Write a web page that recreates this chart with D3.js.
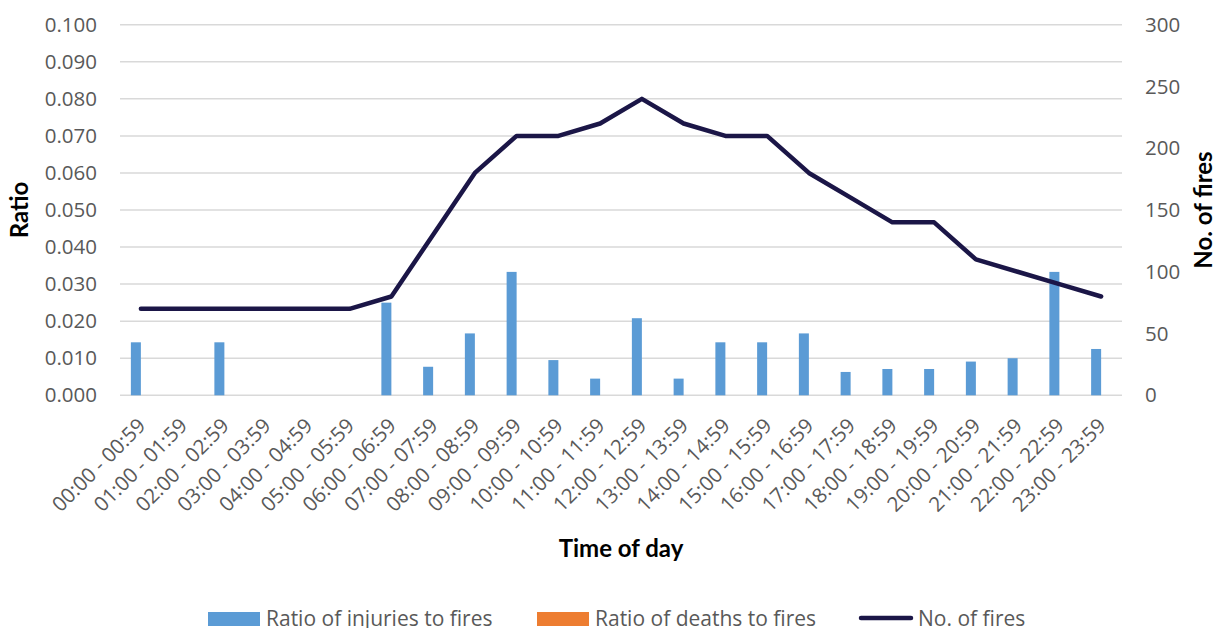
<!DOCTYPE html>
<html>
<head>
<meta charset="utf-8">
<script src="https://cdn.jsdelivr.net/npm/d3@7"></script>
<style>
  body { margin: 0; background: #fff; }
  text { font-family: "Open Sans", sans-serif; fill: #595959; }
  .title { font-family: Lato, "Open Sans", sans-serif; font-weight: 700; fill: #000; }
</style>
</head>
<body>
<div id="chart"></div>
<script>
var width = 1215, height = 628;

var hours = ["00:00 - 00:59","01:00 - 01:59","02:00 - 02:59","03:00 - 03:59","04:00 - 04:59","05:00 - 05:59",
	"06:00 - 06:59","07:00 - 07:59","08:00 - 08:59","09:00 - 09:59","10:00 - 10:59","11:00 - 11:59",
	"12:00 - 12:59","13:00 - 13:59","14:00 - 14:59","15:00 - 15:59","16:00 - 16:59","17:00 - 17:59",
	"18:00 - 18:59","19:00 - 19:59","20:00 - 20:59","21:00 - 21:59","22:00 - 22:59","23:00 - 23:59"];
var injuryRatio = [0.0143,0,0.0143,0,0,0,0.025,0.0077,0.0167,0.0333,0.0095,0.0045,
	0.0208,0.0045,0.0143,0.0143,0.0167,0.0063,0.0071,0.0071,0.0091,0.01,0.0333,0.0125];
var deathRatio = [0,0,0,0,0,0,0,0,0,0,0,0,0,0,0,0,0,0,0,0,0,0,0,0];
var fires = [70,70,70,70,70,70,80,130,180,210,210,220,240,220,210,210,180,160,140,140,110,100,90,80];
var ratioTicks = [0,0.01,0.02,0.03,0.04,0.05,0.06,0.07,0.08,0.09,0.1];
var fireTicks = [0,50,100,150,200,250,300];
var seriesNames = ["Ratio of injuries to fires","Ratio of deaths to fires","No. of fires"];

var plotL = 120, plotR = 1122, plotT = 24.7, plotB = 395.3;

var svg = d3.select("#chart").append("svg")
	.attr("width", width)
	.attr("height", height);

var x = d3.scaleBand().domain(hours).range([plotL, plotR]);
var sub = d3.scaleBand().domain([0,1]).range([-10, 10]);
var yL = d3.scaleLinear().domain([0, 0.1]).range([plotB, plotT]);
var yR = d3.scaleLinear().domain([0, 300]).range([plotB, plotT]);

// gridlines
svg.append("g").selectAll("line").data(ratioTicks).enter().append("line")
	.attr("x1", plotL).attr("x2", plotR)
	.attr("y1", function(d) { return yL(d); }).attr("y2", function(d) { return yL(d); })
	.attr("stroke", "#d9d9d9").attr("stroke-width", 1.5);

// left axis labels
svg.append("g").selectAll("text").data(ratioTicks).enter().append("text")
	.attr("x", 97).attr("y", function(d) { return yL(d); })
	.attr("dy", "0.35em").attr("text-anchor", "end")
	.style("font-size", "20.5px")
	.text(function(d) { return d3.format(".3f")(d); });

// right axis labels
svg.append("g").selectAll("text").data(fireTicks).enter().append("text")
	.attr("x", 1145).attr("y", function(d) { return yR(d); })
	.attr("dy", "0.35em")
	.style("font-size", "20.5px")
	.text(function(d) { return d; });

// bars
var bars = svg.append("g");
bars.selectAll(".inj").data(injuryRatio).enter().append("rect")
	.attr("class", "inj")
	.attr("x", function(d, i) { return x(hours[i]) + x.bandwidth() / 2 + sub(0); })
	.attr("width", sub.bandwidth())
	.attr("y", function(d) { return yL(d); })
	.attr("height", function(d) { return plotB - yL(d); })
	.attr("fill", "#5b9bd5");
bars.selectAll(".dth").data(deathRatio).enter().append("rect")
	.attr("class", "dth")
	.attr("x", function(d, i) { return x(hours[i]) + x.bandwidth() / 2 + sub(1); })
	.attr("width", sub.bandwidth())
	.attr("y", function(d) { return yL(d); })
	.attr("height", function(d) { return plotB - yL(d); })
	.attr("fill", "#ed7d31");

// line
var line = d3.line()
	.x(function(d, i) { return x(hours[i]) + x.bandwidth() / 2; })
	.y(function(d) { return yR(d); });
svg.append("path").datum(fires)
	.attr("d", line)
	.attr("fill", "none")
	.attr("stroke", "#1b1647")
	.attr("stroke-width", 4.5)
	.attr("stroke-linejoin", "round")
	.attr("stroke-linecap", "round");

// x labels
svg.append("g").selectAll("text").data(hours).enter().append("text")
	.attr("transform", function(d) { return "translate(" + (x(d) + x.bandwidth() / 2 + 6) + ",427) rotate(-45)"; })
	.attr("text-anchor", "end")
	.style("font-size", "20.5px")
	.text(function(d) { return d; });

// axis titles
svg.append("text").attr("class", "title")
	.attr("transform", "translate(28,210) rotate(-90)")
	.attr("text-anchor", "middle")
	.style("font-size", "24px")
	.text("Ratio");
svg.append("text").attr("class", "title")
	.attr("transform", "translate(1212,210) rotate(-90)")
	.attr("text-anchor", "middle")
	.style("font-size", "24px")
	.text("No. of fires");
svg.append("text").attr("class", "title")
	.attr("x", 621).attr("y", 557)
	.attr("text-anchor", "middle")
	.style("font-size", "24px")
	.text("Time of day");

// legend
var leg = svg.append("g");
leg.append("rect").attr("x", 208).attr("y", 612).attr("width", 52).attr("height", 14).attr("fill", "#5b9bd5");
leg.append("text").attr("x", 266).attr("y", 626).style("font-size", "21px").text(seriesNames[0]);
leg.append("rect").attr("x", 537).attr("y", 612).attr("width", 52).attr("height", 14).attr("fill", "#ed7d31");
leg.append("text").attr("x", 595).attr("y", 626).style("font-size", "21px").text(seriesNames[1]);
leg.append("line").attr("x1", 861).attr("x2", 911).attr("y1", 618).attr("y2", 618)
	.attr("stroke", "#1b1647").attr("stroke-width", 4.5).attr("stroke-linecap", "round");
leg.append("text").attr("x", 918).attr("y", 626).style("font-size", "21px").text(seriesNames[2]);
</script>
</body>
</html>
